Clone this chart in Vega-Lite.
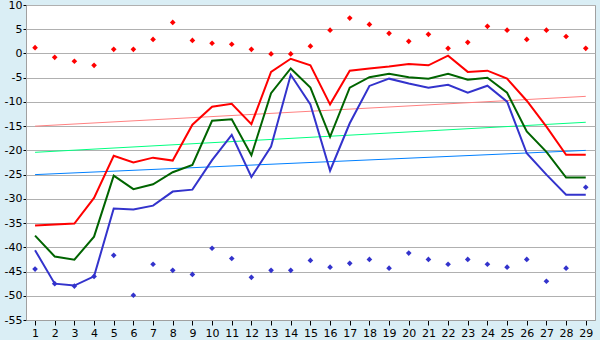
{
  "$schema": "https://vega.github.io/schema/vega-lite/v6.json",
  "width": 569,
  "height": 315,
  "autosize": {"type": "none"},
  "padding": {"left": 26, "top": 5, "right": 5, "bottom": 20},
  "background": "#daeef5",
  "config": {
    "view": {"stroke": "#a0a0a0", "fill": "white"},
    "font": "DejaVu Sans"
  },
  "datasets": {
    "trend": [
      {"s": "Max trend", "x": 1, "v": -15.0}, {"s": "Max trend", "x": 29, "v": -8.85},
      {"s": "Avg trend", "x": 1, "v": -20.4}, {"s": "Avg trend", "x": 29, "v": -14.2},
      {"s": "Min trend", "x": 1, "v": -25.0}, {"s": "Min trend", "x": 29, "v": -20.0}
    ],
    "lines": [
      {"s": "Max", "x": 1, "v": -35.5}, {"s": "Max", "x": 2, "v": -35.3}, {"s": "Max", "x": 3, "v": -35.1}, {"s": "Max", "x": 4, "v": -29.8}, {"s": "Max", "x": 5, "v": -21.1}, {"s": "Max", "x": 6, "v": -22.5}, {"s": "Max", "x": 7, "v": -21.5}, {"s": "Max", "x": 8, "v": -22.1}, {"s": "Max", "x": 9, "v": -14.7}, {"s": "Max", "x": 10, "v": -11.0}, {"s": "Max", "x": 11, "v": -10.4}, {"s": "Max", "x": 12, "v": -14.6}, {"s": "Max", "x": 13, "v": -3.8}, {"s": "Max", "x": 14, "v": -1.1}, {"s": "Max", "x": 15, "v": -2.45}, {"s": "Max", "x": 16, "v": -10.5}, {"s": "Max", "x": 17, "v": -3.55}, {"s": "Max", "x": 18, "v": -3.1}, {"s": "Max", "x": 19, "v": -2.7}, {"s": "Max", "x": 20, "v": -2.2}, {"s": "Max", "x": 21, "v": -2.45}, {"s": "Max", "x": 22, "v": -0.45}, {"s": "Max", "x": 23, "v": -3.8}, {"s": "Max", "x": 24, "v": -3.55}, {"s": "Max", "x": 25, "v": -5.2}, {"s": "Max", "x": 26, "v": -9.75}, {"s": "Max", "x": 27, "v": -15.1}, {"s": "Max", "x": 28, "v": -20.9}, {"s": "Max", "x": 29, "v": -20.9},
      {"s": "Avg", "x": 1, "v": -37.6}, {"s": "Avg", "x": 2, "v": -41.9}, {"s": "Avg", "x": 3, "v": -42.55}, {"s": "Avg", "x": 4, "v": -37.8}, {"s": "Avg", "x": 5, "v": -25.2}, {"s": "Avg", "x": 6, "v": -28.0}, {"s": "Avg", "x": 7, "v": -27.0}, {"s": "Avg", "x": 8, "v": -24.5}, {"s": "Avg", "x": 9, "v": -23.0}, {"s": "Avg", "x": 10, "v": -13.9}, {"s": "Avg", "x": 11, "v": -13.6}, {"s": "Avg", "x": 12, "v": -21.0}, {"s": "Avg", "x": 13, "v": -8.2}, {"s": "Avg", "x": 14, "v": -3.1}, {"s": "Avg", "x": 15, "v": -7.05}, {"s": "Avg", "x": 16, "v": -17.2}, {"s": "Avg", "x": 17, "v": -7.05}, {"s": "Avg", "x": 18, "v": -4.9}, {"s": "Avg", "x": 19, "v": -4.2}, {"s": "Avg", "x": 20, "v": -4.9}, {"s": "Avg", "x": 21, "v": -5.2}, {"s": "Avg", "x": 22, "v": -4.2}, {"s": "Avg", "x": 23, "v": -5.4}, {"s": "Avg", "x": 24, "v": -5.0}, {"s": "Avg", "x": 25, "v": -8.1}, {"s": "Avg", "x": 26, "v": -16.1}, {"s": "Avg", "x": 27, "v": -20.3}, {"s": "Avg", "x": 28, "v": -25.6}, {"s": "Avg", "x": 29, "v": -25.6},
      {"s": "Min", "x": 1, "v": -40.6}, {"s": "Min", "x": 2, "v": -47.5}, {"s": "Min", "x": 3, "v": -47.9}, {"s": "Min", "x": 4, "v": -46.0}, {"s": "Min", "x": 5, "v": -32.0}, {"s": "Min", "x": 6, "v": -32.2}, {"s": "Min", "x": 7, "v": -31.4}, {"s": "Min", "x": 8, "v": -28.5}, {"s": "Min", "x": 9, "v": -28.1}, {"s": "Min", "x": 10, "v": -22.0}, {"s": "Min", "x": 11, "v": -16.8}, {"s": "Min", "x": 12, "v": -25.5}, {"s": "Min", "x": 13, "v": -19.2}, {"s": "Min", "x": 14, "v": -4.4}, {"s": "Min", "x": 15, "v": -10.5}, {"s": "Min", "x": 16, "v": -24.2}, {"s": "Min", "x": 17, "v": -14.4}, {"s": "Min", "x": 18, "v": -6.7}, {"s": "Min", "x": 19, "v": -5.2}, {"s": "Min", "x": 20, "v": -6.2}, {"s": "Min", "x": 21, "v": -7.05}, {"s": "Min", "x": 22, "v": -6.45}, {"s": "Min", "x": 23, "v": -8.1}, {"s": "Min", "x": 24, "v": -6.65}, {"s": "Min", "x": 25, "v": -9.95}, {"s": "Min", "x": 26, "v": -20.6}, {"s": "Min", "x": 27, "v": -25.0}, {"s": "Min", "x": 28, "v": -29.15}, {"s": "Min", "x": 29, "v": -29.15}
    ],
    "points": [
      {"s": "Max point", "x": 1, "v": 1.2}, {"s": "Max point", "x": 2, "v": -0.8}, {"s": "Max point", "x": 3, "v": -1.6}, {"s": "Max point", "x": 4, "v": -2.45}, {"s": "Max point", "x": 5, "v": 0.85}, {"s": "Max point", "x": 6, "v": 0.85}, {"s": "Max point", "x": 7, "v": 2.9}, {"s": "Max point", "x": 8, "v": 6.4}, {"s": "Max point", "x": 9, "v": 2.7}, {"s": "Max point", "x": 10, "v": 2.1}, {"s": "Max point", "x": 11, "v": 1.9}, {"s": "Max point", "x": 12, "v": 0.85}, {"s": "Max point", "x": 13, "v": -0.1}, {"s": "Max point", "x": 14, "v": -0.1}, {"s": "Max point", "x": 15, "v": 1.5}, {"s": "Max point", "x": 16, "v": 4.8}, {"s": "Max point", "x": 17, "v": 7.3}, {"s": "Max point", "x": 18, "v": 6.0}, {"s": "Max point", "x": 19, "v": 4.15}, {"s": "Max point", "x": 20, "v": 2.5}, {"s": "Max point", "x": 21, "v": 3.95}, {"s": "Max point", "x": 22, "v": 1.05}, {"s": "Max point", "x": 23, "v": 2.3}, {"s": "Max point", "x": 24, "v": 5.6}, {"s": "Max point", "x": 25, "v": 4.8}, {"s": "Max point", "x": 26, "v": 2.9}, {"s": "Max point", "x": 27, "v": 4.8}, {"s": "Max point", "x": 28, "v": 3.5}, {"s": "Max point", "x": 29, "v": 1.05},
      {"s": "Min point", "x": 1, "v": -44.5}, {"s": "Min point", "x": 2, "v": -47.5}, {"s": "Min point", "x": 3, "v": -48.0}, {"s": "Min point", "x": 4, "v": -46.0}, {"s": "Min point", "x": 5, "v": -41.65}, {"s": "Min point", "x": 6, "v": -49.9}, {"s": "Min point", "x": 7, "v": -43.5}, {"s": "Min point", "x": 8, "v": -44.75}, {"s": "Min point", "x": 9, "v": -45.6}, {"s": "Min point", "x": 10, "v": -40.2}, {"s": "Min point", "x": 11, "v": -42.3}, {"s": "Min point", "x": 12, "v": -46.2}, {"s": "Min point", "x": 13, "v": -44.75}, {"s": "Min point", "x": 14, "v": -44.75}, {"s": "Min point", "x": 15, "v": -42.7}, {"s": "Min point", "x": 16, "v": -44.1}, {"s": "Min point", "x": 17, "v": -43.3}, {"s": "Min point", "x": 18, "v": -42.5}, {"s": "Min point", "x": 19, "v": -44.3}, {"s": "Min point", "x": 20, "v": -41.2}, {"s": "Min point", "x": 21, "v": -42.5}, {"s": "Min point", "x": 22, "v": -43.5}, {"s": "Min point", "x": 23, "v": -42.5}, {"s": "Min point", "x": 24, "v": -43.5}, {"s": "Min point", "x": 25, "v": -44.1}, {"s": "Min point", "x": 26, "v": -42.5}, {"s": "Min point", "x": 27, "v": -47.0}, {"s": "Min point", "x": 28, "v": -44.3}, {"s": "Min point", "x": 29, "v": -27.6}
    ]
  },
  "encoding": {
    "x": {
      "field": "x", "type": "quantitative",
      "scale": {"domain": [0.54, 29.47], "nice": false, "zero": false},
      "axis": {
        "title": null, "values": [1,2,3,4,5,6,7,8,9,10,11,12,13,14,15,16,17,18,19,20,21,22,23,24,25,26,27,28,29],
        "grid": false, "domainColor": "#a0a0a0", "tickColor": "#000000", "tickSize": 5,
        "labelColor": "#000000", "labelFontSize": 11, "labelFont": "DejaVu Sans", "labelPadding": 2
      }
    },
    "y": {
      "field": "v", "type": "quantitative",
      "scale": {"domain": [-55, 10], "nice": false, "zero": false},
      "axis": {
        "title": null, "values": [-55,-50,-45,-40,-35,-30,-25,-20,-15,-10,-5,0,5,10],
        "labelExpr": "'' + datum.value",
        "grid": true, "gridColor": "#b0b0b0", "gridOpacity": 1,
        "domainColor": "#a0a0a0", "tickColor": "#000000", "tickSize": 3,
        "labelColor": "#000000", "labelFontSize": 11, "labelFont": "DejaVu Sans", "labelPadding": 1
      }
    },
    "color": {
      "field": "s", "type": "nominal", "legend": null,
      "scale": {
        "domain": ["Max trend", "Avg trend", "Min trend", "Max", "Avg", "Min", "Max point", "Min point"],
        "range": ["#ff8080", "#00ff80", "#0080ff", "#ff0000", "#006400", "#3333cc", "#ff0000", "#3333cc"]
      }
    }
  },
  "layer": [
    {"data": {"name": "trend"}, "mark": {"type": "line", "strokeWidth": 1}, "encoding": {"detail": {"field": "s"}}},
    {"data": {"name": "lines"}, "mark": {"type": "line", "strokeWidth": 2}, "encoding": {"detail": {"field": "s"}}},
    {"data": {"name": "points"}, "mark": {"type": "point", "shape": "diamond", "filled": true, "size": 32, "opacity": 1}}
  ]
}
